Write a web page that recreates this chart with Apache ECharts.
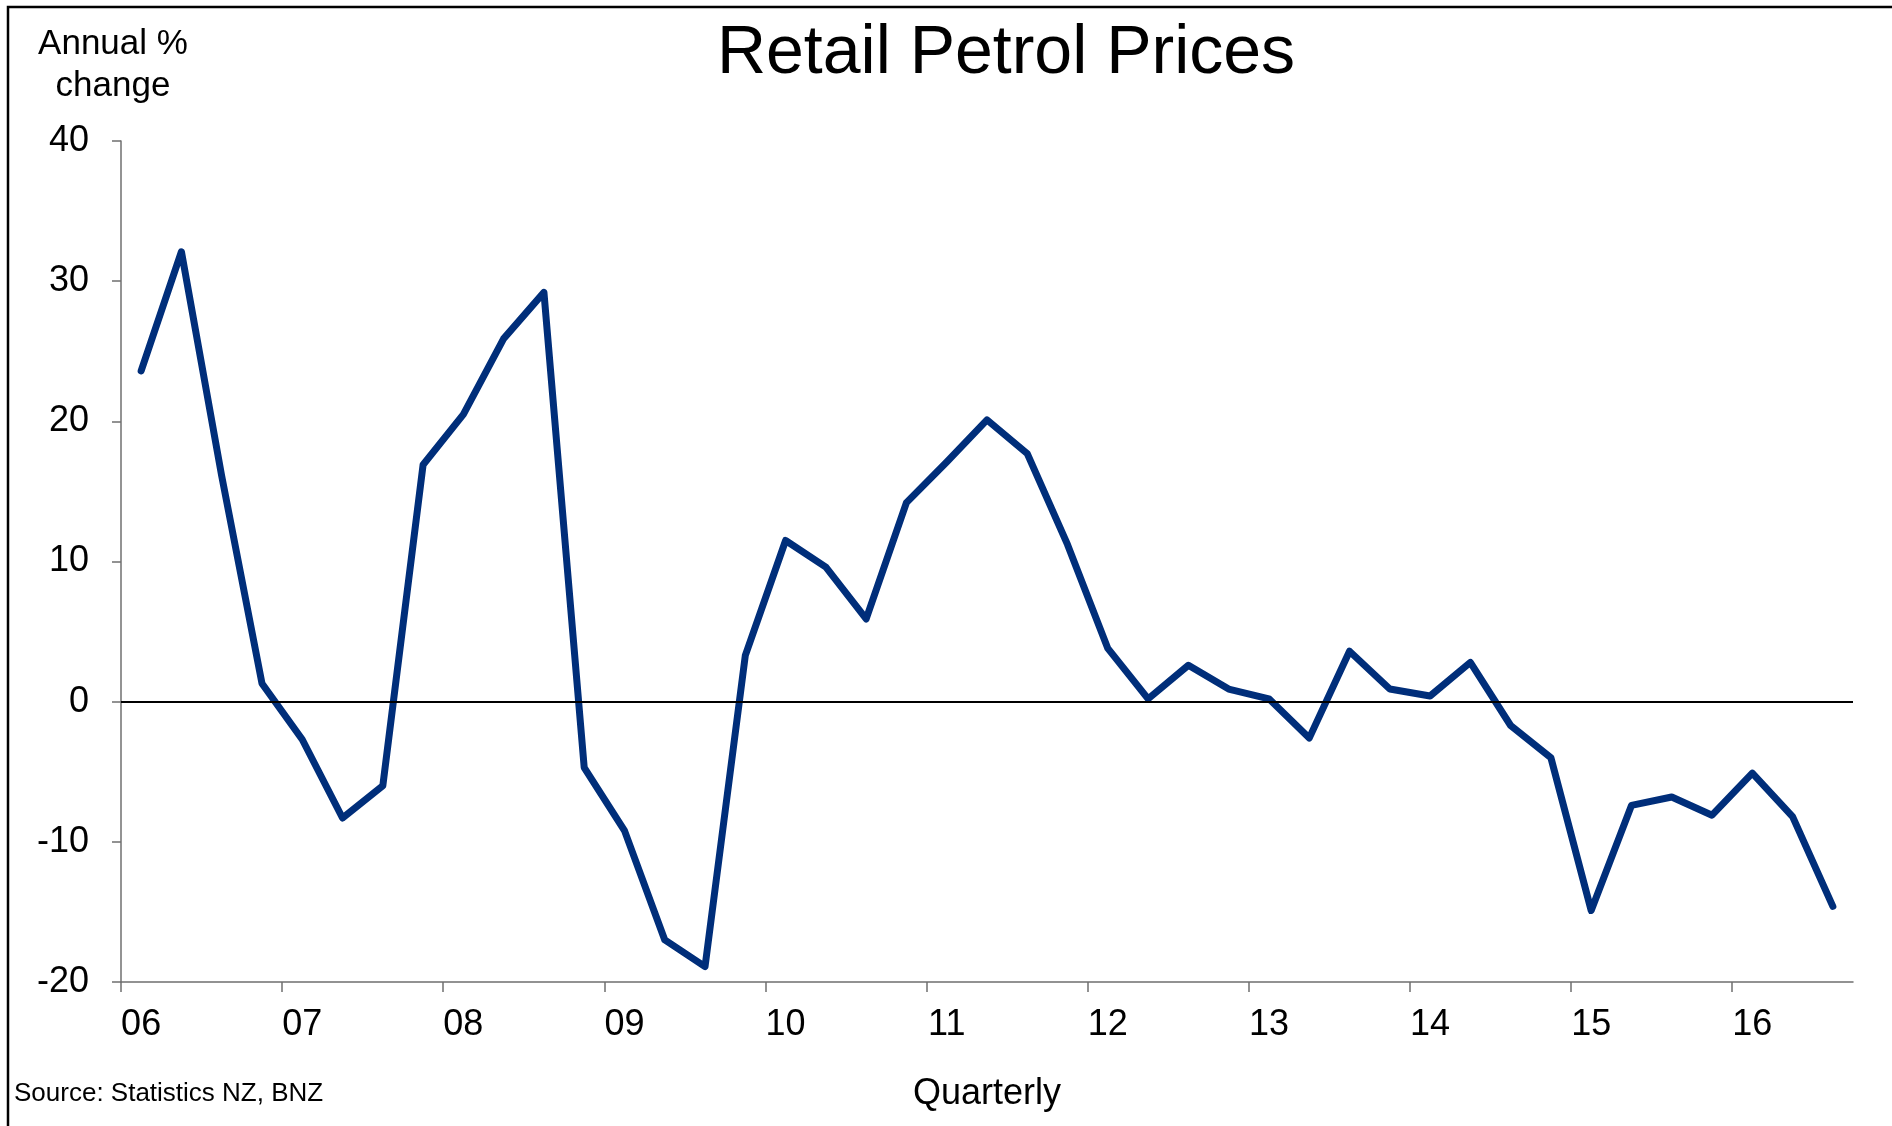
<!DOCTYPE html>
<html>
<head>
<meta charset="utf-8">
<title>Retail Petrol Prices</title>
<script src="https://cdn.jsdelivr.net/npm/echarts@6/dist/echarts.min.js"></script>
<style>
  html, body { margin: 0; padding: 0; background: #fff; }
  #chart { width: 1892px; height: 1126px; }
</style>
</head>
<body>
<div id="chart"></div>
<script>
// quarterly categories, label shows the year only
var quarters = [
  'Mar-06', 'Jun-06', 'Sep-06', 'Dec-06',
  'Mar-07', 'Jun-07', 'Sep-07', 'Dec-07',
  'Mar-08', 'Jun-08', 'Sep-08', 'Dec-08',
  'Mar-09', 'Jun-09', 'Sep-09', 'Dec-09',
  'Mar-10', 'Jun-10', 'Sep-10', 'Dec-10',
  'Mar-11', 'Jun-11', 'Sep-11', 'Dec-11',
  'Mar-12', 'Jun-12', 'Sep-12', 'Dec-12',
  'Mar-13', 'Jun-13', 'Sep-13', 'Dec-13',
  'Mar-14', 'Jun-14', 'Sep-14', 'Dec-14',
  'Mar-15', 'Jun-15', 'Sep-15', 'Dec-15',
  'Mar-16', 'Jun-16', 'Sep-16'
];

// annual % change in retail petrol prices
var petrolAnnualPct = [
  23.6, 32.1, 16.1, 1.3,
  -2.7, -8.3, -6.0, 16.9,
  20.5, 25.9, 29.2, -4.7,
  -9.2, -17.0, -18.9, 3.3,
  11.5, 9.6, 5.9, 14.2,
  17.1, 20.1, 17.7, 11.2,
  3.8, 0.2, 2.6, 0.9,
  0.2, -2.6, 3.6, 0.9,
  0.4, 2.8, -1.7, -4.0,
  -14.9, -7.4, -6.8, -8.1,
  -5.1, -8.2, -14.6
];

var yMin = -20;
var yMax = 40;
var yStep = 10;

// year ticks sit on the boundaries between quarters, so a second axis
// with one extra slot and no boundary gap carries them
var quarterBounds = quarters.concat(['Dec-16']);

var fontFamily = '"Liberation Sans", Arial, sans-serif';
var axisGrey = '#6f6f6f';

var chart = echarts.init(document.getElementById('chart'), null, { width: 1892, height: 1126 });

var option = {
  backgroundColor: '#ffffff',
  animation: false,
  grid: {
    left: 121,
    right: 39,
    top: 141,
    bottom: 144,
    containLabel: false
  },
  graphic: [
    {
      // frame, only top and left edges are visible in the original
      type: 'rect',
      shape: { x: 8, y: 7, width: 2200, height: 1500 },
      style: { fill: null, stroke: '#000', lineWidth: 2.5 },
      silent: true
    },
    {
      type: 'text',
      style: {
        text: 'Retail Petrol Prices',
        x: 1006, y: 54,
        font: '68px ' + fontFamily,
        fill: '#000',
        textAlign: 'center', textVerticalAlign: 'middle',
        align: 'center', verticalAlign: 'middle'
      }
    },
    {
      type: 'text',
      style: {
        text: 'Annual %\nchange',
        x: 113, y: 65,
        font: '35px ' + fontFamily,
        lineHeight: 42,
        fill: '#000',
        textAlign: 'center', textVerticalAlign: 'middle',
        align: 'center', verticalAlign: 'middle'
      }
    },
    {
      type: 'text',
      style: {
        text: 'Quarterly',
        x: 987, y: 1094,
        font: '36px ' + fontFamily,
        fill: '#000',
        textAlign: 'center', textVerticalAlign: 'middle',
        align: 'center', verticalAlign: 'middle'
      }
    },
    {
      type: 'text',
      style: {
        text: 'Source: Statistics NZ, BNZ',
        x: 14, y: 1094,
        font: '26px ' + fontFamily,
        fill: '#000',
        textAlign: 'left', textVerticalAlign: 'middle',
        align: 'left', verticalAlign: 'middle'
      }
    }
  ],
  xAxis: [
    {
      type: 'category',
      position: 'bottom',
      data: quarters,
      boundaryGap: true,
      axisLine: { onZero: false, lineStyle: { color: axisGrey, width: 1.5 } },
      axisTick: { show: false },
      axisLabel: {
        interval: 3,
        margin: 25,
        color: '#000',
        fontSize: 36,
        fontFamily: fontFamily,
        formatter: function (v) { return v.slice(-2); }
      },
      splitLine: { show: false }
    },
    {
      type: 'category',
      position: 'bottom',
      data: quarterBounds,
      boundaryGap: false,
      axisLine: { show: false, onZero: false },
      axisTick: {
        show: true,
        interval: 3,
        length: 10,
        lineStyle: { color: axisGrey, width: 1.5 }
      },
      axisLabel: { show: false },
      splitLine: { show: false }
    }
  ],
  yAxis: {
    type: 'value',
    min: yMin,
    max: yMax,
    interval: yStep,
    axisLine: { show: true, lineStyle: { color: axisGrey, width: 1.5 } },
    axisTick: { show: true, length: 9, lineStyle: { color: axisGrey, width: 1.5 } },
    axisLabel: {
      margin: 32,
      color: '#000',
      fontSize: 36,
      fontFamily: fontFamily
    },
    splitLine: { show: false }
  },
  series: [
    {
      name: 'Retail petrol prices',
      type: 'line',
      xAxisIndex: 0,
      data: petrolAnnualPct,
      symbol: 'none',
      lineStyle: { color: '#002e7a', width: 7, cap: 'round', join: 'round' },
      markLine: {
        silent: true,
        symbol: 'none',
        label: { show: false },
        lineStyle: { color: '#000', width: 2, type: 'solid' },
        data: [{ yAxis: 0 }]
      },
      z: 3
    }
  ]
};

chart.setOption(option);
</script>
</body>
</html>
